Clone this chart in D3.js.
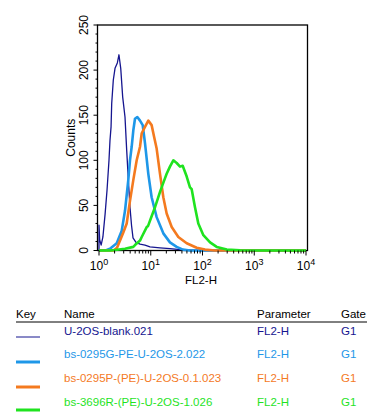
<!DOCTYPE html>
<html>
<head>
<meta charset="utf-8">
<script src="https://cdn.jsdelivr.net/npm/d3@7"></script>
<style>
	body { margin: 0; background: #fff; }
	text { font-family: "Liberation Sans", Arial, Helvetica, sans-serif; }
</style>
</head>
<body>
<div id="draw"></div>
<script>
// FL2-H channel values and counts
var blankFL = [1.00, 1.00, 1.03, 1.10, 1.19, 1.31, 1.43, 1.56, 1.63, 1.71, 1.76, 1.89, 2.04, 2.26, 2.43, 2.63, 2.87, 3.18, 3.43, 3.72, 3.97, 4.25, 4.54, 5.19, 6.20, 7.74, 9.67, 15.1, 23.5, 36.8, 57.3, 89.5, 10000];
var blankCount = [0, 28, 12, 6, 15, 40, 67, 100, 122, 137, 163, 189, 202, 208, 217, 202, 170, 148, 111, 75, 48, 28, 14, 9, 7, 6, 4, 3, 2, 1, 0.5, 0, 0];

var g0295FL = [1.00, 1.41, 1.63, 2.20, 2.75, 3.18, 3.68, 3.97, 4.28, 4.60, 4.96, 5.50, 6.20, 6.99, 7.74, 8.97, 10.4, 13.0, 17.5, 23.5, 31.7, 42.0, 57.3, 10000];
var g0295Count = [0, 0.5, 2, 8, 22, 44, 78, 100, 115, 133, 146, 148, 144, 139, 119, 85, 59, 37, 19, 9, 4, 1, 0, 0];

var p0295FL = [1.00, 1.89, 2.23, 2.55, 2.95, 3.43, 3.97, 4.60, 5.35, 6.20, 6.69, 7.74, 8.97, 10.4, 11.6, 13.0, 15.1, 17.5, 20.3, 25.4, 34.1, 49.5, 77.2, 112, 174, 10000];
var p0295Count = [0, 0, 3, 11, 20, 30, 55, 78, 100, 115, 130, 137, 144, 139, 126, 113, 85, 59, 41, 26, 15, 8, 3, 1, 0, 0];

var r3696FL = [1.00, 1.63, 2.04, 3.18, 4.60, 4.96, 6.20, 6.69, 8.35, 8.85, 10.4, 12.1, 13.8, 15.1, 18.8, 20.3, 23.5, 27.3, 31.7, 36.8, 41.4, 49.5, 57.3, 61.8, 71.6, 83.0, 104, 140, 188, 294, 531, 1290, 10000];
var r3696Count = [0, 0, 0.5, 2, 4, 6, 11, 15, 26, 27, 38, 48, 58, 65, 80, 85, 93, 100, 97, 93, 94, 82, 70, 68, 48, 30, 17, 9, 4, 1, 0.3, 0, 0];

var sampleNames = ["U-2OS-blank.021", "bs-0295G-PE-U-2OS-2.022", "bs-0295P-(PE)-U-2OS-0.1.023", "bs-3696R-(PE)-U-2OS-1.026"];
var parameters = ["FL2-H", "FL2-H", "FL2-H", "FL2-H"];
var gates = ["G1", "G1", "G1", "G1"];
var colors = ["#15158f", "#1e97e8", "#f47a1f", "#1fe31f"];
var lineWidths = [1.3, 2.6, 2.6, 2.6];

var yTicks = [0, 50, 100, 150, 200, 250];
var xDecades = [0, 1, 2, 3, 4];

var seriesFL = [blankFL, g0295FL, p0295FL, r3696FL];
var seriesCount = [blankCount, g0295Count, p0295Count, r3696Count];

var width = 376, height = 418;

var svg = d3.select("#draw").append("svg")
	.attr("width", width)
	.attr("height", height);

var x = d3.scaleLog()
	.domain([1, 10000])
	.range([99, 306]);

var y = d3.scaleLinear()
	.domain([0, 250])
	.range([250.5, 25]);

// frame
svg.append("rect")
	.attr("x", 97.5)
	.attr("y", 25)
	.attr("width", 210)
	.attr("height", 225.5)
	.attr("fill", "none")
	.attr("stroke", "#000")
	.attr("stroke-width", 1.3);

// curves
var line = d3.line()
	.x(function(d){ return x(d[0]); })
	.y(function(d){ return y(d[1]); });

for(var i = 0; i < 4; ++i)
{
	var pts = seriesFL[i].map(function(v, j){ return [v, seriesCount[i][j]]; });
	svg.append("path")
		.datum(pts)
		.attr("d", line)
		.attr("fill", "none")
		.attr("stroke", colors[i])
		.attr("stroke-width", lineWidths[i])
		.attr("stroke-linejoin", "round");
}

// y axis ticks
var yMinor = d3.range(0, 251, 10);
svg.selectAll(".ytick")
	.data(yMinor)
	.enter()
	.append("line")
	.attr("x1", 97.5)
	.attr("x2", function(d){ return d % 50 == 0 ? 93.5 : 95.5; })
	.attr("y1", function(d){ return y(d); })
	.attr("y2", function(d){ return y(d); })
	.attr("stroke", "#000")
	.attr("stroke-width", 1);

svg.selectAll(".ylabel")
	.data(yTicks)
	.enter()
	.append("text")
	.attr("transform", function(d){ return "translate(88," + y(d) + ") rotate(-90)"; })
	.attr("text-anchor", "middle")
	.style("font-size", "12px")
	.text(function(d){ return d; });

svg.append("text")
	.attr("transform", "translate(75," + y(125) + ") rotate(-90)")
	.attr("text-anchor", "middle")
	.style("font-size", "12px")
	.text("Counts");

// x axis ticks
var xMinor = [];
xDecades.forEach(function(k){
	if(k < 4)
		for(var m = 1; m < 10; ++m) xMinor.push(m * Math.pow(10, k));
	else
		xMinor.push(10000);
});

svg.selectAll(".xtick")
	.data(xMinor)
	.enter()
	.append("line")
	.attr("x1", function(d){ return x(d); })
	.attr("x2", function(d){ return x(d); })
	.attr("y1", 250.5)
	.attr("y2", function(d){ return Math.abs(Math.log10(d) - Math.round(Math.log10(d))) < 1e-9 ? 255.5 : 253.5; })
	.attr("stroke", "#000")
	.attr("stroke-width", 1);

var xl = svg.selectAll(".xlabel")
	.data(xDecades)
	.enter()
	.append("text")
	.attr("x", function(d){ return x(Math.pow(10, d)); })
	.attr("y", 270)
	.attr("text-anchor", "middle")
	.style("font-size", "12px");
xl.append("tspan").text("10");
xl.append("tspan")
	.attr("dy", -5)
	.style("font-size", "9px")
	.text(function(d){ return d; });

svg.append("text")
	.attr("x", 201)
	.attr("y", 284)
	.attr("text-anchor", "middle")
	.style("font-size", "11.5px")
	.text("FL2-H");

// legend table
var colX = [16, 64, 257, 341];
var headers = ["Key", "Name", "Parameter", "Gate"];
var rowY = [334.5, 357.5, 382, 406];
var keyY = [337, 362, 387, 410];

svg.selectAll(".header")
	.data(headers)
	.enter()
	.append("text")
	.attr("x", function(d, i){ return colX[i]; })
	.attr("y", 318)
	.style("font-size", "11.5px")
	.attr("fill", "#000")
	.text(function(d){ return d; });

svg.append("line")
	.attr("x1", 16)
	.attr("x2", 367)
	.attr("y1", 322)
	.attr("y2", 322)
	.attr("stroke", "#000")
	.attr("stroke-width", 1);

for(var r = 0; r < 4; ++r)
{
	svg.append("line")
		.attr("x1", 16)
		.attr("x2", 40)
		.attr("y1", keyY[r])
		.attr("y2", keyY[r])
		.attr("stroke", colors[r])
		.attr("stroke-width", r == 0 ? 1 : 3);
	var cells = [sampleNames[r], parameters[r], gates[r]];
	for(var c = 0; c < 3; ++c)
	{
		svg.append("text")
			.attr("x", colX[c + 1])
			.attr("y", rowY[r])
			.attr("fill", colors[r])
			.style("font-size", "11.5px")
			.text(cells[c]);
	}
}
</script>
</body>
</html>
